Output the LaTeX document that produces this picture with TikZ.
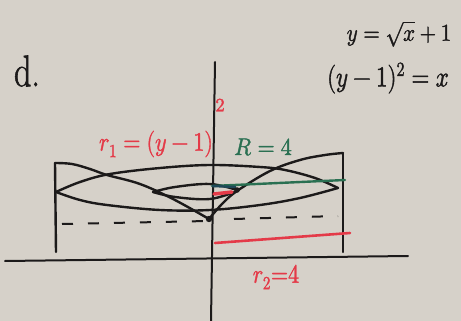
\documentclass[tikz,border=0pt]{standalone}
\usepackage{unicode-math}
\setmainfont{Latin Modern Roman}[FakeBold=1.6]
\setmathfont{Latin Modern Math}[FakeBold=1.6]
\usepackage{graphicx}
\definecolor{paper}{RGB}{214,209,201}
\definecolor{inkc}{RGB}{28,26,26}
\definecolor{redc}{RGB}{228,58,72}
\definecolor{greenc}{RGB}{42,112,82}
\definecolor{tealc}{RGB}{30,72,88}
\begin{document}
\begin{tikzpicture}[x=1pt,y=-1pt,
  ink/.style={line width=2.4pt, draw=inkc, line cap=round, line join=round},
  axis/.style={line width=2pt, draw=inkc, line cap=round},
  dashes/.style={line width=2pt, draw=inkc, dash pattern=on 11pt off 15pt},
  redline/.style={line width=2.6pt, draw=redc, line cap=round},
  greenline/.style={line width=2.4pt, draw=greenc, line cap=round},
  lbl/.style={inner sep=0pt}]
\fill[paper] (0,0) rectangle (461,321);
\useasboundingbox (0,0) rectangle (461,321);

% axes
\draw[axis] (215,62) -- (211,321);
\draw[axis] (5,261) -- (408,256);

% walls
\draw[ink] (55,163) -- (56,252);
\draw[ink] (343,153) -- (343,252);

% outer boundary y = sqrt(x)+1 (both sides)
\draw[ink] plot[smooth, tension=0.6] coordinates {(55,163) (72,164) (90,169) (107,175) (140,184) (173,199) (209,219)};
\draw[ink] plot[smooth, tension=0.6] coordinates {(209,219) (222,204) (237,191) (270,171) (300,160) (325,155) (343,153)};

% big ellipse
\draw[ink] plot[smooth, tension=0.6] coordinates {(56,192) (80,182) (110,174) (160,168) (210,165) (260,167) (285,170) (315,178) (338,188)};
\draw[ink] plot[smooth, tension=0.6] coordinates {(56,192) (80,200) (107,205) (160,210) (210,210) (260,205) (300,198) (338,188)};

% inner ellipse
\draw[ink] plot[smooth, tension=0.6] coordinates {(153,192) (175,187) (210,184) (237,190)};
\draw[ink] plot[smooth, tension=0.6] coordinates {(153,192) (175,197) (210,199) (237,191)};

% dashed line
\draw[dashes] (62,224) -- (208,221);
\draw[dashes] (234,219) -- (338,216);

% green R
\draw[greenline] (212,186) -- (345,180);
\draw[line width=2.4pt, draw=tealc] (212,186) -- (236,187);

% red r1 inside
\draw[line width=3.5pt, draw=redc, line cap=round] (214,194) -- (232,192);

% red r2
\draw[redline] (215,243) -- (350,233);

% dots
\fill[inkc] (209,219) circle (3.2);
\fill[inkc] (237,190) circle (2.8);

% texts
\node[lbl, text=inkc] (part) at (27,71) {\scalebox{1}[1.3]{\fontsize{34}{34}\selectfont d.}};
\node[lbl, text=inkc] (eqa) at (399,34) {\scalebox{1}[1.15]{\fontsize{21}{21}\selectfont $y=\sqrt{x}+1$}};
\node[lbl, text=inkc] (eqb) at (388,78) {\scalebox{1}[1.25]{\fontsize{23}{23}\selectfont $(y-1)^2=x$}};
\node[lbl, text=redc] (rone) at (156,144) {\scalebox{1}[1.2]{\fontsize{22}{22}\selectfont $r_1=(y-1)$}};
\node[lbl, text=redc] (ronesq) at (220,105) {\fontsize{19}{19}\selectfont $2$};
\node[lbl, text=greenc] (Rlab) at (263,147) {\scalebox{1}[1.1]{\fontsize{22}{22}\selectfont $R=4$}};
\node[lbl, text=redc] (rtwo) at (276,277) {\scalebox{1}[1.2]{\fontsize{22}{22}\selectfont $r_2{=}4$}};
\end{tikzpicture}
\end{document}
